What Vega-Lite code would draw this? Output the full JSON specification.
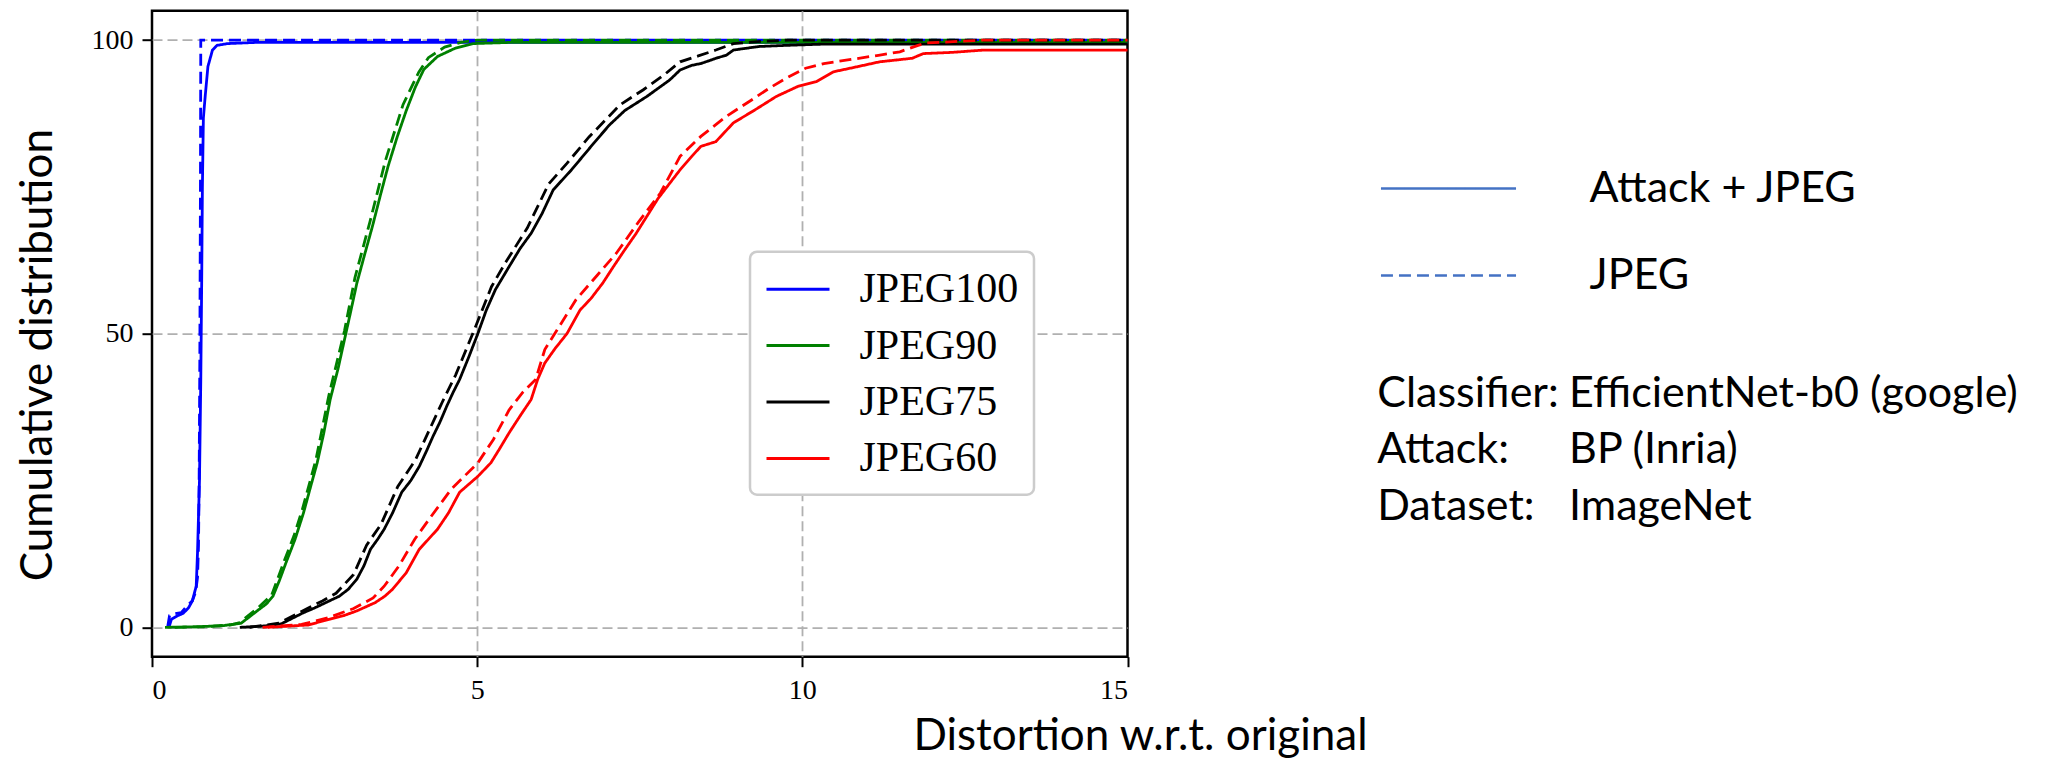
{
  "$schema": "https://vega.github.io/schema/vega-lite/v6.json",
  "autosize": {"type": "none"},
  "padding": {"left": 152, "top": 10.7, "right": 928.5, "bottom": 101.3},
  "width": 975.5,
  "height": 646,
  "background": "white",
  "config": {
    "view": {"stroke": "black", "strokeWidth": 2.5},
    "axis": {"domain": false}
  },
  "datasets": {
    "curves": [
      {"q": "JPEG100", "k": "Attack + JPEG", "x": 0.26, "y": 0},
      {"q": "JPEG100", "k": "Attack + JPEG", "x": 0.3, "y": 1.4},
      {"q": "JPEG100", "k": "Attack + JPEG", "x": 0.4, "y": 2.0},
      {"q": "JPEG100", "k": "Attack + JPEG", "x": 0.48, "y": 2.4},
      {"q": "JPEG100", "k": "Attack + JPEG", "x": 0.56, "y": 3.3},
      {"q": "JPEG100", "k": "Attack + JPEG", "x": 0.62, "y": 4.5},
      {"q": "JPEG100", "k": "Attack + JPEG", "x": 0.68, "y": 7},
      {"q": "JPEG100", "k": "Attack + JPEG", "x": 0.7, "y": 12.7},
      {"q": "JPEG100", "k": "Attack + JPEG", "x": 0.73, "y": 25},
      {"q": "JPEG100", "k": "Attack + JPEG", "x": 0.75, "y": 42},
      {"q": "JPEG100", "k": "Attack + JPEG", "x": 0.765, "y": 60},
      {"q": "JPEG100", "k": "Attack + JPEG", "x": 0.775, "y": 75},
      {"q": "JPEG100", "k": "Attack + JPEG", "x": 0.79, "y": 86.7},
      {"q": "JPEG100", "k": "Attack + JPEG", "x": 0.82, "y": 90.7},
      {"q": "JPEG100", "k": "Attack + JPEG", "x": 0.86, "y": 95.5},
      {"q": "JPEG100", "k": "Attack + JPEG", "x": 0.93, "y": 98.3},
      {"q": "JPEG100", "k": "Attack + JPEG", "x": 1.0, "y": 99.1},
      {"q": "JPEG100", "k": "Attack + JPEG", "x": 1.16, "y": 99.4},
      {"q": "JPEG100", "k": "Attack + JPEG", "x": 1.6, "y": 99.6},
      {"q": "JPEG100", "k": "Attack + JPEG", "x": 15, "y": 99.6},

      {"q": "JPEG100", "k": "JPEG", "x": 0.24, "y": 0},
      {"q": "JPEG100", "k": "JPEG", "x": 0.27, "y": 2.0},
      {"q": "JPEG100", "k": "JPEG", "x": 0.35, "y": 2.3},
      {"q": "JPEG100", "k": "JPEG", "x": 0.45, "y": 2.5},
      {"q": "JPEG100", "k": "JPEG", "x": 0.55, "y": 3.8},
      {"q": "JPEG100", "k": "JPEG", "x": 0.62, "y": 4.5},
      {"q": "JPEG100", "k": "JPEG", "x": 0.67, "y": 6},
      {"q": "JPEG100", "k": "JPEG", "x": 0.7, "y": 8.5},
      {"q": "JPEG100", "k": "JPEG", "x": 0.715, "y": 14},
      {"q": "JPEG100", "k": "JPEG", "x": 0.725, "y": 25},
      {"q": "JPEG100", "k": "JPEG", "x": 0.735, "y": 45},
      {"q": "JPEG100", "k": "JPEG", "x": 0.745, "y": 75},
      {"q": "JPEG100", "k": "JPEG", "x": 0.75, "y": 100},
      {"q": "JPEG100", "k": "JPEG", "x": 15, "y": 100},

      {"q": "JPEG90", "k": "Attack + JPEG", "x": 0.2, "y": 0},
      {"q": "JPEG90", "k": "Attack + JPEG", "x": 0.7, "y": 0.1},
      {"q": "JPEG90", "k": "Attack + JPEG", "x": 1.1, "y": 0.3},
      {"q": "JPEG90", "k": "Attack + JPEG", "x": 1.37, "y": 0.7},
      {"q": "JPEG90", "k": "Attack + JPEG", "x": 1.5, "y": 1.8},
      {"q": "JPEG90", "k": "Attack + JPEG", "x": 1.64, "y": 3},
      {"q": "JPEG90", "k": "Attack + JPEG", "x": 1.76, "y": 4},
      {"q": "JPEG90", "k": "Attack + JPEG", "x": 1.86, "y": 5.3},
      {"q": "JPEG90", "k": "Attack + JPEG", "x": 1.96, "y": 8},
      {"q": "JPEG90", "k": "Attack + JPEG", "x": 2.06, "y": 11},
      {"q": "JPEG90", "k": "Attack + JPEG", "x": 2.2, "y": 15},
      {"q": "JPEG90", "k": "Attack + JPEG", "x": 2.33, "y": 19.5},
      {"q": "JPEG90", "k": "Attack + JPEG", "x": 2.44, "y": 24},
      {"q": "JPEG90", "k": "Attack + JPEG", "x": 2.54, "y": 28},
      {"q": "JPEG90", "k": "Attack + JPEG", "x": 2.64, "y": 33},
      {"q": "JPEG90", "k": "Attack + JPEG", "x": 2.74, "y": 38.8},
      {"q": "JPEG90", "k": "Attack + JPEG", "x": 2.86, "y": 44},
      {"q": "JPEG90", "k": "Attack + JPEG", "x": 2.98, "y": 50},
      {"q": "JPEG90", "k": "Attack + JPEG", "x": 3.06, "y": 54},
      {"q": "JPEG90", "k": "Attack + JPEG", "x": 3.15, "y": 58.6},
      {"q": "JPEG90", "k": "Attack + JPEG", "x": 3.27, "y": 63.5},
      {"q": "JPEG90", "k": "Attack + JPEG", "x": 3.39, "y": 68.3},
      {"q": "JPEG90", "k": "Attack + JPEG", "x": 3.51, "y": 73.5},
      {"q": "JPEG90", "k": "Attack + JPEG", "x": 3.63, "y": 78.5},
      {"q": "JPEG90", "k": "Attack + JPEG", "x": 3.77, "y": 83.5},
      {"q": "JPEG90", "k": "Attack + JPEG", "x": 3.91, "y": 88},
      {"q": "JPEG90", "k": "Attack + JPEG", "x": 4.05, "y": 92},
      {"q": "JPEG90", "k": "Attack + JPEG", "x": 4.18, "y": 95},
      {"q": "JPEG90", "k": "Attack + JPEG", "x": 4.39, "y": 97.2},
      {"q": "JPEG90", "k": "Attack + JPEG", "x": 4.66, "y": 98.6},
      {"q": "JPEG90", "k": "Attack + JPEG", "x": 4.94, "y": 99.4},
      {"q": "JPEG90", "k": "Attack + JPEG", "x": 5.5, "y": 99.6},
      {"q": "JPEG90", "k": "Attack + JPEG", "x": 15, "y": 99.6},

      {"q": "JPEG90", "k": "JPEG", "x": 0.35, "y": 0},
      {"q": "JPEG90", "k": "JPEG", "x": 0.8, "y": 0.1},
      {"q": "JPEG90", "k": "JPEG", "x": 1.2, "y": 0.4},
      {"q": "JPEG90", "k": "JPEG", "x": 1.35, "y": 0.8},
      {"q": "JPEG90", "k": "JPEG", "x": 1.48, "y": 2},
      {"q": "JPEG90", "k": "JPEG", "x": 1.62, "y": 3.2},
      {"q": "JPEG90", "k": "JPEG", "x": 1.84, "y": 5.5},
      {"q": "JPEG90", "k": "JPEG", "x": 1.94, "y": 8.5},
      {"q": "JPEG90", "k": "JPEG", "x": 2.04, "y": 11.5},
      {"q": "JPEG90", "k": "JPEG", "x": 2.18, "y": 15.5},
      {"q": "JPEG90", "k": "JPEG", "x": 2.31, "y": 20},
      {"q": "JPEG90", "k": "JPEG", "x": 2.52, "y": 28.5},
      {"q": "JPEG90", "k": "JPEG", "x": 2.72, "y": 39.5},
      {"q": "JPEG90", "k": "JPEG", "x": 2.96, "y": 50.5},
      {"q": "JPEG90", "k": "JPEG", "x": 3.12, "y": 59.5},
      {"q": "JPEG90", "k": "JPEG", "x": 3.35, "y": 69},
      {"q": "JPEG90", "k": "JPEG", "x": 3.59, "y": 79.5},
      {"q": "JPEG90", "k": "JPEG", "x": 3.86, "y": 89},
      {"q": "JPEG90", "k": "JPEG", "x": 4.1, "y": 94.5},
      {"q": "JPEG90", "k": "JPEG", "x": 4.25, "y": 97},
      {"q": "JPEG90", "k": "JPEG", "x": 4.5, "y": 98.8},
      {"q": "JPEG90", "k": "JPEG", "x": 4.75, "y": 99.6},
      {"q": "JPEG90", "k": "JPEG", "x": 5.0, "y": 100},
      {"q": "JPEG90", "k": "JPEG", "x": 15, "y": 100},

      {"q": "JPEG75", "k": "Attack + JPEG", "x": 1.35, "y": 0},
      {"q": "JPEG75", "k": "Attack + JPEG", "x": 1.7, "y": 0.2},
      {"q": "JPEG75", "k": "Attack + JPEG", "x": 1.99, "y": 0.6},
      {"q": "JPEG75", "k": "Attack + JPEG", "x": 2.15, "y": 1.5},
      {"q": "JPEG75", "k": "Attack + JPEG", "x": 2.33, "y": 2.5},
      {"q": "JPEG75", "k": "Attack + JPEG", "x": 2.5, "y": 3.3},
      {"q": "JPEG75", "k": "Attack + JPEG", "x": 2.67, "y": 4.2},
      {"q": "JPEG75", "k": "Attack + JPEG", "x": 2.88, "y": 5.3},
      {"q": "JPEG75", "k": "Attack + JPEG", "x": 3.02, "y": 6.5},
      {"q": "JPEG75", "k": "Attack + JPEG", "x": 3.15, "y": 8.2},
      {"q": "JPEG75", "k": "Attack + JPEG", "x": 3.26, "y": 10.5},
      {"q": "JPEG75", "k": "Attack + JPEG", "x": 3.36, "y": 13.3},
      {"q": "JPEG75", "k": "Attack + JPEG", "x": 3.47, "y": 15},
      {"q": "JPEG75", "k": "Attack + JPEG", "x": 3.57, "y": 16.7},
      {"q": "JPEG75", "k": "Attack + JPEG", "x": 3.7, "y": 19.5},
      {"q": "JPEG75", "k": "Attack + JPEG", "x": 3.84, "y": 23},
      {"q": "JPEG75", "k": "Attack + JPEG", "x": 3.98, "y": 25},
      {"q": "JPEG75", "k": "Attack + JPEG", "x": 4.11, "y": 27.4},
      {"q": "JPEG75", "k": "Attack + JPEG", "x": 4.22, "y": 30},
      {"q": "JPEG75", "k": "Attack + JPEG", "x": 4.32, "y": 32.5},
      {"q": "JPEG75", "k": "Attack + JPEG", "x": 4.43, "y": 35},
      {"q": "JPEG75", "k": "Attack + JPEG", "x": 4.53, "y": 37.6},
      {"q": "JPEG75", "k": "Attack + JPEG", "x": 4.63, "y": 40},
      {"q": "JPEG75", "k": "Attack + JPEG", "x": 4.73, "y": 42.2},
      {"q": "JPEG75", "k": "Attack + JPEG", "x": 4.87, "y": 46},
      {"q": "JPEG75", "k": "Attack + JPEG", "x": 5.01, "y": 50},
      {"q": "JPEG75", "k": "Attack + JPEG", "x": 5.14, "y": 54},
      {"q": "JPEG75", "k": "Attack + JPEG", "x": 5.28, "y": 57.5},
      {"q": "JPEG75", "k": "Attack + JPEG", "x": 5.49, "y": 61.4},
      {"q": "JPEG75", "k": "Attack + JPEG", "x": 5.66, "y": 64.5},
      {"q": "JPEG75", "k": "Attack + JPEG", "x": 5.83, "y": 67.1},
      {"q": "JPEG75", "k": "Attack + JPEG", "x": 6.0, "y": 70.5},
      {"q": "JPEG75", "k": "Attack + JPEG", "x": 6.17, "y": 74.5},
      {"q": "JPEG75", "k": "Attack + JPEG", "x": 6.45, "y": 77.9},
      {"q": "JPEG75", "k": "Attack + JPEG", "x": 6.79, "y": 82.4},
      {"q": "JPEG75", "k": "Attack + JPEG", "x": 7.03, "y": 85.5},
      {"q": "JPEG75", "k": "Attack + JPEG", "x": 7.27, "y": 88},
      {"q": "JPEG75", "k": "Attack + JPEG", "x": 7.61, "y": 90.4},
      {"q": "JPEG75", "k": "Attack + JPEG", "x": 7.96, "y": 93.2},
      {"q": "JPEG75", "k": "Attack + JPEG", "x": 8.12, "y": 94.9},
      {"q": "JPEG75", "k": "Attack + JPEG", "x": 8.3, "y": 95.7},
      {"q": "JPEG75", "k": "Attack + JPEG", "x": 8.44, "y": 96},
      {"q": "JPEG75", "k": "Attack + JPEG", "x": 8.7, "y": 97},
      {"q": "JPEG75", "k": "Attack + JPEG", "x": 8.83, "y": 97.4},
      {"q": "JPEG75", "k": "Attack + JPEG", "x": 8.94, "y": 98.3},
      {"q": "JPEG75", "k": "Attack + JPEG", "x": 9.33, "y": 98.9},
      {"q": "JPEG75", "k": "Attack + JPEG", "x": 9.76, "y": 99.1},
      {"q": "JPEG75", "k": "Attack + JPEG", "x": 10.3, "y": 99.3},
      {"q": "JPEG75", "k": "Attack + JPEG", "x": 15, "y": 99.3},

      {"q": "JPEG75", "k": "JPEG", "x": 1.5, "y": 0},
      {"q": "JPEG75", "k": "JPEG", "x": 1.95, "y": 0.7},
      {"q": "JPEG75", "k": "JPEG", "x": 2.3, "y": 2.7},
      {"q": "JPEG75", "k": "JPEG", "x": 2.62, "y": 4.5},
      {"q": "JPEG75", "k": "JPEG", "x": 2.83, "y": 5.8},
      {"q": "JPEG75", "k": "JPEG", "x": 3.1, "y": 9},
      {"q": "JPEG75", "k": "JPEG", "x": 3.3, "y": 14},
      {"q": "JPEG75", "k": "JPEG", "x": 3.52, "y": 17.5},
      {"q": "JPEG75", "k": "JPEG", "x": 3.78, "y": 24},
      {"q": "JPEG75", "k": "JPEG", "x": 4.05, "y": 28.5},
      {"q": "JPEG75", "k": "JPEG", "x": 4.26, "y": 33.5},
      {"q": "JPEG75", "k": "JPEG", "x": 4.47, "y": 38.5},
      {"q": "JPEG75", "k": "JPEG", "x": 4.67, "y": 43},
      {"q": "JPEG75", "k": "JPEG", "x": 4.95, "y": 50.5},
      {"q": "JPEG75", "k": "JPEG", "x": 5.22, "y": 58},
      {"q": "JPEG75", "k": "JPEG", "x": 5.43, "y": 62},
      {"q": "JPEG75", "k": "JPEG", "x": 5.77, "y": 68},
      {"q": "JPEG75", "k": "JPEG", "x": 6.1, "y": 75.5},
      {"q": "JPEG75", "k": "JPEG", "x": 6.38, "y": 79},
      {"q": "JPEG75", "k": "JPEG", "x": 6.72, "y": 83.5},
      {"q": "JPEG75", "k": "JPEG", "x": 7.2, "y": 89},
      {"q": "JPEG75", "k": "JPEG", "x": 7.55, "y": 91.5},
      {"q": "JPEG75", "k": "JPEG", "x": 7.9, "y": 94.3},
      {"q": "JPEG75", "k": "JPEG", "x": 8.12, "y": 96.3},
      {"q": "JPEG75", "k": "JPEG", "x": 8.4, "y": 97.3},
      {"q": "JPEG75", "k": "JPEG", "x": 8.67, "y": 98.3},
      {"q": "JPEG75", "k": "JPEG", "x": 8.94, "y": 99.4},
      {"q": "JPEG75", "k": "JPEG", "x": 9.4, "y": 99.8},
      {"q": "JPEG75", "k": "JPEG", "x": 9.8, "y": 100},
      {"q": "JPEG75", "k": "JPEG", "x": 15, "y": 100},

      {"q": "JPEG60", "k": "Attack + JPEG", "x": 1.78, "y": 0},
      {"q": "JPEG60", "k": "Attack + JPEG", "x": 2.4, "y": 0.4},
      {"q": "JPEG60", "k": "Attack + JPEG", "x": 2.74, "y": 1.4},
      {"q": "JPEG60", "k": "Attack + JPEG", "x": 2.95, "y": 2},
      {"q": "JPEG60", "k": "Attack + JPEG", "x": 3.15, "y": 2.8},
      {"q": "JPEG60", "k": "Attack + JPEG", "x": 3.43, "y": 4.2},
      {"q": "JPEG60", "k": "Attack + JPEG", "x": 3.58, "y": 5.3},
      {"q": "JPEG60", "k": "Attack + JPEG", "x": 3.7, "y": 6.5},
      {"q": "JPEG60", "k": "Attack + JPEG", "x": 3.91, "y": 9.3},
      {"q": "JPEG60", "k": "Attack + JPEG", "x": 4.11, "y": 13.3},
      {"q": "JPEG60", "k": "Attack + JPEG", "x": 4.39, "y": 16.7},
      {"q": "JPEG60", "k": "Attack + JPEG", "x": 4.56, "y": 19.5},
      {"q": "JPEG60", "k": "Attack + JPEG", "x": 4.73, "y": 23},
      {"q": "JPEG60", "k": "Attack + JPEG", "x": 5.01, "y": 25.7},
      {"q": "JPEG60", "k": "Attack + JPEG", "x": 5.21, "y": 28},
      {"q": "JPEG60", "k": "Attack + JPEG", "x": 5.35, "y": 30.5},
      {"q": "JPEG60", "k": "Attack + JPEG", "x": 5.49, "y": 33.1},
      {"q": "JPEG60", "k": "Attack + JPEG", "x": 5.66, "y": 36},
      {"q": "JPEG60", "k": "Attack + JPEG", "x": 5.83, "y": 38.8},
      {"q": "JPEG60", "k": "Attack + JPEG", "x": 5.93, "y": 42.2},
      {"q": "JPEG60", "k": "Attack + JPEG", "x": 6.04, "y": 45},
      {"q": "JPEG60", "k": "Attack + JPEG", "x": 6.2, "y": 47.5},
      {"q": "JPEG60", "k": "Attack + JPEG", "x": 6.38, "y": 50},
      {"q": "JPEG60", "k": "Attack + JPEG", "x": 6.58, "y": 54},
      {"q": "JPEG60", "k": "Attack + JPEG", "x": 6.75, "y": 56},
      {"q": "JPEG60", "k": "Attack + JPEG", "x": 6.93, "y": 58.6},
      {"q": "JPEG60", "k": "Attack + JPEG", "x": 7.1, "y": 61.5},
      {"q": "JPEG60", "k": "Attack + JPEG", "x": 7.27, "y": 64.3},
      {"q": "JPEG60", "k": "Attack + JPEG", "x": 7.44, "y": 67},
      {"q": "JPEG60", "k": "Attack + JPEG", "x": 7.61, "y": 70},
      {"q": "JPEG60", "k": "Attack + JPEG", "x": 7.78, "y": 73},
      {"q": "JPEG60", "k": "Attack + JPEG", "x": 7.96, "y": 75.6},
      {"q": "JPEG60", "k": "Attack + JPEG", "x": 8.12, "y": 77.9},
      {"q": "JPEG60", "k": "Attack + JPEG", "x": 8.3, "y": 80.2},
      {"q": "JPEG60", "k": "Attack + JPEG", "x": 8.44, "y": 81.9},
      {"q": "JPEG60", "k": "Attack + JPEG", "x": 8.67, "y": 82.7},
      {"q": "JPEG60", "k": "Attack + JPEG", "x": 8.94, "y": 85.9},
      {"q": "JPEG60", "k": "Attack + JPEG", "x": 9.27, "y": 88.1},
      {"q": "JPEG60", "k": "Attack + JPEG", "x": 9.6, "y": 90.4},
      {"q": "JPEG60", "k": "Attack + JPEG", "x": 9.93, "y": 92.1},
      {"q": "JPEG60", "k": "Attack + JPEG", "x": 10.21, "y": 92.9},
      {"q": "JPEG60", "k": "Attack + JPEG", "x": 10.48, "y": 94.6},
      {"q": "JPEG60", "k": "Attack + JPEG", "x": 10.86, "y": 95.5},
      {"q": "JPEG60", "k": "Attack + JPEG", "x": 11.19, "y": 96.3},
      {"q": "JPEG60", "k": "Attack + JPEG", "x": 11.69, "y": 96.9},
      {"q": "JPEG60", "k": "Attack + JPEG", "x": 11.86, "y": 97.7},
      {"q": "JPEG60", "k": "Attack + JPEG", "x": 12.3, "y": 97.9},
      {"q": "JPEG60", "k": "Attack + JPEG", "x": 12.79, "y": 98.3},
      {"q": "JPEG60", "k": "Attack + JPEG", "x": 15, "y": 98.3},

      {"q": "JPEG60", "k": "JPEG", "x": 1.7, "y": 0},
      {"q": "JPEG60", "k": "JPEG", "x": 2.3, "y": 0.5},
      {"q": "JPEG60", "k": "JPEG", "x": 2.7, "y": 1.6},
      {"q": "JPEG60", "k": "JPEG", "x": 3.1, "y": 3.2},
      {"q": "JPEG60", "k": "JPEG", "x": 3.4, "y": 5},
      {"q": "JPEG60", "k": "JPEG", "x": 3.57, "y": 7},
      {"q": "JPEG60", "k": "JPEG", "x": 3.8, "y": 10.5},
      {"q": "JPEG60", "k": "JPEG", "x": 4.04, "y": 15},
      {"q": "JPEG60", "k": "JPEG", "x": 4.3, "y": 19},
      {"q": "JPEG60", "k": "JPEG", "x": 4.6, "y": 23.5},
      {"q": "JPEG60", "k": "JPEG", "x": 5.01, "y": 28},
      {"q": "JPEG60", "k": "JPEG", "x": 5.25, "y": 32},
      {"q": "JPEG60", "k": "JPEG", "x": 5.49, "y": 37},
      {"q": "JPEG60", "k": "JPEG", "x": 5.7, "y": 40},
      {"q": "JPEG60", "k": "JPEG", "x": 5.9, "y": 42.2},
      {"q": "JPEG60", "k": "JPEG", "x": 6.04, "y": 47.3},
      {"q": "JPEG60", "k": "JPEG", "x": 6.25, "y": 51},
      {"q": "JPEG60", "k": "JPEG", "x": 6.52, "y": 55.8},
      {"q": "JPEG60", "k": "JPEG", "x": 6.85, "y": 60},
      {"q": "JPEG60", "k": "JPEG", "x": 7.14, "y": 63.7},
      {"q": "JPEG60", "k": "JPEG", "x": 7.48, "y": 69},
      {"q": "JPEG60", "k": "JPEG", "x": 7.82, "y": 74},
      {"q": "JPEG60", "k": "JPEG", "x": 8.12, "y": 80.2},
      {"q": "JPEG60", "k": "JPEG", "x": 8.44, "y": 83.6},
      {"q": "JPEG60", "k": "JPEG", "x": 8.83, "y": 87},
      {"q": "JPEG60", "k": "JPEG", "x": 9.22, "y": 89.8},
      {"q": "JPEG60", "k": "JPEG", "x": 9.49, "y": 91.8},
      {"q": "JPEG60", "k": "JPEG", "x": 9.75, "y": 93.5},
      {"q": "JPEG60", "k": "JPEG", "x": 10.05, "y": 95.2},
      {"q": "JPEG60", "k": "JPEG", "x": 10.33, "y": 96},
      {"q": "JPEG60", "k": "JPEG", "x": 10.75, "y": 96.7},
      {"q": "JPEG60", "k": "JPEG", "x": 11.17, "y": 97.4},
      {"q": "JPEG60", "k": "JPEG", "x": 11.5, "y": 98},
      {"q": "JPEG60", "k": "JPEG", "x": 11.78, "y": 99.1},
      {"q": "JPEG60", "k": "JPEG", "x": 11.9, "y": 99.5},
      {"q": "JPEG60", "k": "JPEG", "x": 12.8, "y": 100},
      {"q": "JPEG60", "k": "JPEG", "x": 15, "y": 100}
    ],
    "info": [
      {"line": 1, "key": "Classifier:", "value": "EfficientNet-b0 (google)"},
      {"line": 2, "key": "Attack:", "value": "BP (Inria)"},
      {"line": 3, "key": "Dataset:", "value": "ImageNet"}
    ]
  },
  "layer": [
    {
      "data": {"name": "curves"},
      "mark": {"type": "line", "strokeWidth": 2.8},
      "encoding": {
        "x": {
          "field": "x", "type": "quantitative",
          "scale": {"domain": [0, 15], "nice": false, "zero": false},
          "axis": {
            "values": [0, 5, 10, 15], "format": "d",
            "labelFont": "Liberation Serif", "labelFontSize": 28, "labelColor": "black",
            "labelPadding": 10,
            "tickColor": "black", "tickWidth": 2, "tickSize": 10,
            "grid": true, "gridColor": "#b0b0b0", "gridDash": [10, 5], "gridWidth": 1.8,
            "gridOpacity": {"condition": {"test": "datum.value == 0 || datum.value == 15", "value": 0}, "value": 1},
            "title": "Distortion w.r.t. original",
            "titleFont": "Lato", "titleFontSize": 44, "titleFontWeight": "normal", "titleColor": "black",
            "titleX": 988, "titleY": 93, "titleAlign": "center", "titleBaseline": "alphabetic"
          }
        },
        "y": {
          "field": "y", "type": "quantitative",
          "scale": {"domain": [-5, 105], "nice": false, "zero": false},
          "axis": {
            "values": [0, 50, 100], "format": "d",
            "labelFont": "Liberation Serif", "labelFontSize": 28, "labelColor": "black",
            "labelPadding": 9,
            "tickColor": "black", "tickWidth": 2, "tickSize": 10,
            "grid": true, "gridColor": "#b0b0b0", "gridDash": [10, 5], "gridWidth": 1.8,
            "title": "Cumulative distribution",
            "titleFont": "Lato", "titleFontSize": 44, "titleFontWeight": "normal", "titleColor": "black",
            "titleAngle": 270, "titleX": -101, "titleY": 344, "titleAlign": "center", "titleBaseline": "alphabetic"
          }
        },
        "color": {
          "field": "q", "type": "nominal",
          "scale": {"domain": ["JPEG100", "JPEG90", "JPEG75", "JPEG60"], "range": ["#0000ff", "#008000", "#000000", "#ff0000"]},
          "legend": {
            "orient": "none", "legendX": 598, "legendY": 241, "title": null,
            "symbolType": "M-1.5,0H1.5", "symbolSize": 1764, "symbolStrokeWidth": 3,
            "symbolOffset": 10.5,
            "labelFont": "Liberation Serif", "labelFontSize": 42, "labelColor": "black", "labelLimit": 400,
            "labelOffset": 39, "padding": 15, "rowPadding": 12.4,
            "fillColor": "white", "strokeColor": "#cccccc", "cornerRadius": 7,
            "encode": {"legend": {"update": {"strokeWidth": {"value": 2.5}}}}
          }
        },
        "strokeDash": {
          "field": "k", "type": "nominal",
          "scale": {"domain": ["Attack + JPEG", "JPEG"], "range": [[1, 0], [12, 6]]},
          "legend": {
            "orient": "none", "legendX": 1227.5, "legendY": 154.3, "title": null,
            "symbolType": "M-3.07,0H3.07", "symbolSize": 1936, "symbolStrokeWidth": 2.5,
            "symbolStrokeColor": "#4472C4", "symbolOffset": 45.5,
            "labelFont": "Lato", "labelFontSize": 43, "labelColor": "black", "labelLimit": 600,
            "labelOffset": 117.5, "padding": 0, "rowPadding": 41
          }
        }
      }
    },
    {
      "data": {"name": "info"},
      "mark": {"type": "text", "align": "left", "baseline": "alphabetic", "font": "Lato", "fontSize": 43, "color": "black"},
      "encoding": {
        "x": {"datum": 18.84, "type": "quantitative"},
        "y": {"field": "line", "type": "ordinal", "scale": {"type": "point", "range": [396, 509.3], "padding": 0}, "axis": null},
        "text": {"field": "key"}
      }
    },
    {
      "data": {"name": "info"},
      "mark": {"type": "text", "align": "left", "baseline": "alphabetic", "font": "Lato", "fontSize": 43, "color": "black"},
      "encoding": {
        "x": {"datum": 21.79, "type": "quantitative"},
        "y": {"field": "line", "type": "ordinal", "scale": {"type": "point", "range": [396, 509.3], "padding": 0}, "axis": null},
        "text": {"field": "value"}
      }
    }
  ],
  "resolve": {"scale": {"y": "independent"}}
}
